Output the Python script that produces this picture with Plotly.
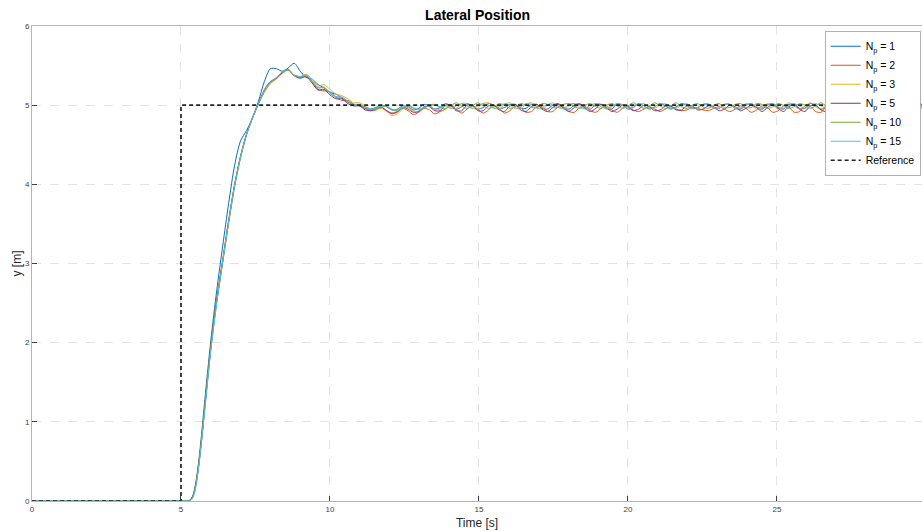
import numpy as np
import plotly.graph_objects as go

# ---------------- data ----------------
t_rise = [0.0, 5.0, 5.2, 5.3, 5.4, 5.5, 5.6, 5.7, 5.8, 6.0, 6.2, 6.4, 6.6, 6.8, 7.0, 7.2, 7.4,
          7.6, 7.8, 8.0, 8.2, 8.4, 8.6, 8.8, 9.0, 9.2, 9.4, 9.6, 9.8, 10.0, 10.2, 10.4, 10.6, 10.8]
t_steady = list(np.round(11.0 + 0.18 * np.arange(107), 2))
time = t_rise + t_steady

np1_rise = [0, 0, 0, 0.01, 0.07, 0.24, 0.52, 0.88, 1.28, 2.02, 2.66, 3.22, 3.76, 4.24, 4.55, 4.68, 4.84,
            5.05, 5.30, 5.46, 5.46, 5.43, 5.47, 5.53, 5.43, 5.35, 5.33, 5.26, 5.22, 5.16, 5.14, 5.09, 5.04, 5.01]
np1_steady = [
    4.99, 4.96, 4.95, 4.97, 5.00, 4.98, 4.94, 4.95, 4.99, 4.98, 4.94, 4.96, 5.01, 4.99, 4.95, 4.97,
    5.02, 4.99, 4.95, 4.98, 5.02, 4.99, 4.95, 4.97,
    5.02, 5.00, 4.96, 4.97, 5.01, 5.01, 4.96, 4.96,
    5.01, 5.01, 4.96, 4.95, 5.00, 5.02, 4.97, 4.95,
    5.00, 5.02, 4.97, 4.95, 5.01, 5.01, 4.96, 4.95,
    5.02, 5.00, 4.95, 4.97, 5.02, 4.99, 4.95, 4.98,
    5.02, 4.99, 4.95, 4.98, 5.02, 5.00, 4.96, 4.97,
    5.01, 5.01, 4.96, 4.96, 5.01, 5.01, 4.96, 4.95,
    5.00, 5.02, 4.97, 4.95, 5.00, 5.02, 4.97, 4.95,
    5.01, 5.01, 4.96, 4.96, 5.02, 5.00, 4.95, 4.97,
    5.02, 4.99, 4.95, 4.98, 5.02, 4.99, 4.95, 4.98,
    5.02, 5.00, 4.96, 4.97, 5.01, 5.01, 4.96, 4.96,
    5.01, 5.01, 4.96]

np2_rise = [0, 0, 0, 0.01, 0.06, 0.21, 0.48, 0.82, 1.20, 1.95, 2.55, 3.05, 3.55, 4.00, 4.36, 4.64, 4.84,
            5.02, 5.20, 5.30, 5.34, 5.41, 5.45, 5.38, 5.35, 5.37, 5.30, 5.20, 5.18, 5.17, 5.10, 5.06, 5.06, 5.01]
np2_steady = [
    5.00, 4.96, 4.93, 4.94, 4.97, 4.93, 4.89, 4.91, 4.96, 4.93, 4.88, 4.91, 4.96, 4.94, 4.89, 4.92,
    4.95, 5.00, 4.95, 4.90, 4.95, 5.00, 4.95, 4.90,
    4.94, 5.00, 4.96, 4.90, 4.93, 4.99, 4.97, 4.91,
    4.92, 4.98, 4.98, 4.92, 4.92, 4.98, 4.98, 4.92,
    4.91, 4.97, 4.99, 4.93, 4.91, 4.96, 4.99, 4.94,
    4.91, 4.96, 4.99, 4.94, 4.92, 4.95, 4.98, 4.95,
    4.92, 4.95, 4.98, 4.95, 4.93, 4.94, 4.97, 4.96,
    4.94, 4.93, 4.96, 4.98, 4.95, 4.92, 4.95, 4.99,
    4.96, 4.91, 4.94, 4.99, 4.97, 4.91, 4.93, 4.99,
    4.98, 4.91, 4.92, 4.99, 4.99, 4.92, 4.91, 4.98,
    4.99, 4.92, 4.91, 4.98, 5.00, 4.93, 4.90, 4.97,
    5.00, 4.94, 4.90, 4.96, 5.00, 4.95, 4.90, 4.95,
    5.00, 4.95, 4.90]

np3_rise = [0, 0, 0, 0.01, 0.05, 0.20, 0.46, 0.80, 1.17, 1.90, 2.50, 3.00, 3.50, 3.96, 4.33, 4.62, 4.83,
            5.01, 5.16, 5.27, 5.33, 5.40, 5.44, 5.38, 5.36, 5.39, 5.33, 5.24, 5.26, 5.20, 5.14, 5.12, 5.08, 5.03]
np3_steady = [
    5.03, 4.99, 4.95, 4.94, 4.96, 4.92, 4.87, 4.89, 4.95, 4.97, 4.92, 4.92, 4.98, 4.99, 4.95, 4.95,
    5.02, 4.96, 4.96, 5.02, 5.02, 4.96, 4.96, 5.02,
    5.03, 4.97, 4.95, 5.01, 5.03, 4.97, 4.95, 5.01,
    5.03, 4.98, 4.95, 5.00, 5.03, 4.99, 4.95, 4.99,
    5.02, 5.00, 4.95, 4.98, 5.02, 5.00, 4.95, 4.98,
    5.01, 5.01, 4.96, 4.97, 5.01, 5.02, 4.96, 4.96,
    5.00, 5.02, 4.97, 4.96, 5.00, 5.02, 4.97, 4.96,
    5.01, 5.02, 4.96, 4.96, 5.01, 5.01, 4.96, 4.97,
    5.02, 5.00, 4.95, 4.97, 5.02, 5.00, 4.95, 4.98,
    5.03, 4.99, 4.95, 4.99, 5.03, 4.98, 4.95, 5.00,
    5.03, 4.97, 4.95, 5.01, 5.02, 4.96, 4.96, 5.02,
    5.02, 4.96, 4.96, 5.02, 5.02, 4.96, 4.96, 5.02,
    5.02, 4.96, 4.96]

np5_rise = [0, 0, 0, 0.01, 0.06, 0.21, 0.47, 0.81, 1.19, 1.93, 2.53, 3.03, 3.53, 3.99, 4.35, 4.63, 4.84,
            5.02, 5.18, 5.29, 5.34, 5.41, 5.45, 5.37, 5.34, 5.36, 5.28, 5.19, 5.20, 5.13, 5.08, 5.08, 5.02, 4.99]
np5_steady = [
    4.99, 4.94, 4.93, 4.95, 4.98, 4.93, 4.90, 4.92, 4.97, 4.95, 4.91, 4.92, 4.98, 4.98, 4.93, 4.93,
    5.00, 5.00, 4.93, 4.93, 5.00, 5.00, 4.93, 4.93,
    4.99, 5.00, 4.94, 4.92, 4.99, 5.01, 4.94, 4.92,
    4.98, 5.01, 4.95, 4.92, 4.97, 5.01, 4.96, 4.92,
    4.97, 5.01, 4.96, 4.92, 4.96, 5.01, 4.97, 4.92,
    4.95, 5.00, 4.98, 4.93, 4.95, 5.00, 4.98, 4.93,
    4.94, 4.99, 4.99, 4.94, 4.94, 4.99, 4.99, 4.94,
    4.95, 4.99, 4.98, 4.93, 4.95, 5.00, 4.98, 4.93,
    4.96, 5.00, 4.97, 4.92, 4.97, 5.01, 4.96, 4.92,
    4.98, 5.01, 4.95, 4.92, 4.99, 5.00, 4.94, 4.92,
    5.00, 5.00, 4.93, 4.93, 5.00, 5.00, 4.93, 4.93,
    5.01, 4.99, 4.92, 4.94, 5.01, 4.99, 4.92, 4.94,
    5.01, 4.98, 4.92]

np10_rise = [0, 0, 0, 0.01, 0.06, 0.21, 0.47, 0.81, 1.19, 1.93, 2.53, 3.03, 3.53, 3.99, 4.35, 4.63, 4.84,
             5.02, 5.18, 5.28, 5.34, 5.42, 5.44, 5.38, 5.36, 5.37, 5.30, 5.22, 5.22, 5.15, 5.10, 5.10, 5.04, 5.00]
np10_steady = [
    5.00, 4.98, 4.95, 4.95, 4.97, 4.99, 4.94, 4.93, 4.96, 4.99, 4.96, 4.94, 4.96, 5.00, 5.01, 4.97,
    4.96, 4.99, 5.03, 4.99, 4.96, 4.99, 5.03, 4.99,
    4.96, 4.98, 5.02, 5.00, 4.96, 4.98, 5.02, 5.00,
    4.97, 4.97, 5.02, 5.01, 4.97, 4.97, 5.01, 5.02,
    4.98, 4.96, 5.00, 5.02, 4.98, 4.96, 5.00, 5.02,
    4.99, 4.96, 4.99, 5.03, 4.99, 4.96, 4.99, 5.03,
    4.99, 4.96, 4.99, 5.03, 4.98, 4.96, 5.00, 5.02,
    4.98, 4.96, 5.00, 5.02, 4.97, 4.97, 5.01, 5.02,
    4.97, 4.97, 5.02, 5.01, 4.96, 4.98, 5.02, 5.00,
    4.96, 4.98, 5.02, 5.00, 4.96, 4.99, 5.03, 4.99,
    4.96, 4.99, 5.03, 4.99, 4.96, 5.00, 5.03, 4.98,
    4.96, 5.00, 5.02, 4.97, 4.96, 5.00, 5.02, 4.97,
    4.97, 5.01, 5.02]

np15_rise = [0, 0, 0, 0.0, 0.04, 0.18, 0.44, 0.78, 1.15, 1.90, 2.50, 3.02, 3.52, 3.98, 4.34, 4.63, 4.84,
             5.02, 5.18, 5.29, 5.35, 5.42, 5.45, 5.38, 5.36, 5.38, 5.31, 5.22, 5.23, 5.16, 5.11, 5.10, 5.05, 5.01]
np15_steady = [
    5.01, 4.97, 4.95, 4.96, 4.99, 4.99, 4.95, 4.94, 4.97, 5.00, 4.97, 4.95, 4.97, 4.99, 5.00, 4.98,
    4.99, 4.96, 4.99, 5.02, 4.99, 4.96, 4.99, 5.02,
    5.00, 4.96, 4.98, 5.02, 5.00, 4.96, 4.98, 5.02,
    5.01, 4.96, 4.97, 5.01, 5.01, 4.97, 4.96, 5.01,
    5.02, 4.97, 4.96, 5.00, 5.02, 4.98, 4.96, 4.99,
    5.02, 4.99, 4.96, 4.99, 5.02, 4.99, 4.96, 4.98,
    5.02, 5.00, 4.96, 4.97, 5.01, 5.00, 4.96, 4.97,
    5.01, 5.01, 4.97, 4.96, 5.01, 5.01, 4.97, 4.96,
    5.00, 5.02, 4.98, 4.96, 5.00, 5.02, 4.98, 4.96,
    4.99, 5.02, 4.99, 4.96, 4.99, 5.02, 4.99, 4.96,
    4.98, 5.02, 5.00, 4.96, 4.98, 5.01, 5.01, 4.96,
    4.97, 5.01, 5.01, 4.96, 4.97, 5.00, 5.02, 4.97,
    4.97, 5.00, 5.02]

ref_t = [0, 5, 5, 30]
ref_y = [0, 0, 5, 5]

series_names = ["N<sub>p</sub> = 1", "N<sub>p</sub> = 2", "N<sub>p</sub> = 3",
                "N<sub>p</sub> = 5", "N<sub>p</sub> = 10", "N<sub>p</sub> = 15"]
series_values = [np1_rise + np1_steady, np2_rise + np2_steady, np3_rise + np3_steady,
                 np5_rise + np5_steady, np10_rise + np10_steady, np15_rise + np15_steady]
colors = ["#0072BD", "#D95319", "#EDB120", "#7E2F8E", "#77AC30", "#4DBEEE"]

x_ticks = [0, 5, 10, 15, 20, 25, 30]
y_ticks = [0, 1, 2, 3, 4, 5, 6]

# ---------------- figure ----------------
fig = go.Figure()
for name, vals, col in zip(series_names, series_values, colors):
    fig.add_trace(go.Scatter(x=time, y=vals, mode="lines", name=name,
                             line=dict(color=col, width=1, shape="spline", smoothing=0.8)))
fig.add_trace(go.Scatter(x=ref_t, y=ref_y, mode="lines", name="Reference",
                         line=dict(color="#222222", width=1.7, dash="4px,3px")))

font_family = "Liberation Sans, Arial, sans-serif"
fig.update_layout(
    width=922, height=531,
    margin=dict(l=32, r=0, t=26, b=30),
    paper_bgcolor="white", plot_bgcolor="white",
    font=dict(family=font_family, color="#262626"),
    title=dict(text="<b>Lateral Position</b>", x=0.518, xanchor="center", y=0.972, yanchor="middle",
               font=dict(size=14, color="#000000", family=font_family)),
    showlegend=True,
    legend=dict(x=0.9985, xanchor="right", y=0.99, yanchor="top",
                bgcolor="white", bordercolor="#b0b0b0", borderwidth=1,
                font=dict(size=10.5, color="#000000", family=font_family),
                itemwidth=30, tracegroupgap=0),
)
fig.update_xaxes(
    range=[0, 29.87], tickvals=x_ticks, ticktext=[str(v) for v in x_ticks],
    showgrid=True, gridcolor="#e3e3e3", griddash="dash", gridwidth=1,
    showline=True, linecolor="#b5b5b5", linewidth=1, mirror=True,
    ticks="inside", ticklen=5, tickcolor="#404040",
    tickfont=dict(size=8, color="#404040"), zeroline=False,
    title=dict(text="Time [s]", standoff=6, font=dict(size=12, color="#262626")),
)
fig.update_yaxes(
    range=[0, 6], tickvals=y_ticks, ticktext=[str(v) for v in y_ticks],
    showgrid=True, gridcolor="#e3e3e3", griddash="dash", gridwidth=1,
    showline=True, linecolor="#b5b5b5", linewidth=1, mirror=False,
    ticks="inside", ticklen=5, tickcolor="#404040",
    tickfont=dict(size=8, color="#404040"), zeroline=False,
    title=dict(text="y [m]", standoff=0, font=dict(size=12, color="#262626")),
)

fig.write_html("out.html", config={"displayModeBar": False},
               post_script="document.body.style.margin='0';document.body.style.overflow='hidden';")
